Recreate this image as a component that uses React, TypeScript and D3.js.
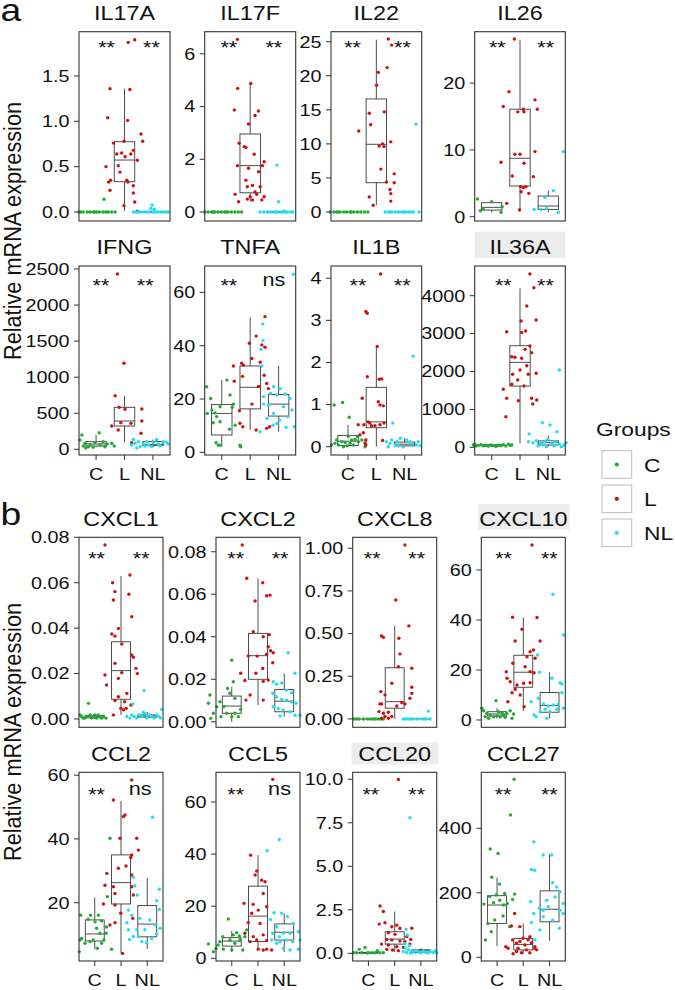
import React from 'react';
import * as d3 from 'd3';

type P = [number, number];

const GROUPS = ['C', 'L', 'NL'];
const COLORS = ['#22AA33', '#CC1111', '#22DDEE'];

// ---------- data: [jitter offset (category units), value] ----------
const IL17A_C: P[] = [[-0.54,0],[-0.45,0],[-0.31,0],[-0.21,0],[-0.1,0],[0.02,0],[0.11,0],[0.25,0],[0.35,0],[0.43,0],[0.55,0],[0.67,0],[-0.6,0],[-0.05,0],[0.28,0.14]];
const IL17A_L: P[] = [[-0.51,1.36],[0.19,1.35],[0.13,1.87],[0.36,1.9],[-0.59,1.04],[0.11,1.01],[0.58,0.86],[0.64,0.78],[-0.39,0.76],[-0.02,0.78],[0.31,0.68],[-0.1,0.65],[-0.27,0.64],[0.02,0.61],[0.45,0.57],[0.22,0.64],[-0.65,0.5],[-0.22,0.51],[-0.16,0.44],[-0.56,0.33],[-0.49,0.35],[-0.51,0.24],[0.08,0.35],[0.12,0.33],[0.31,0.29],[0.31,0.21],[0.36,0.11],[-0.02,0.07],[0.45,0.01]];
const IL17A_NL: P[] = [[-0.69,0],[-0.6,0],[-0.52,0],[-0.43,0],[-0.31,0],[-0.22,0],[-0.12,0],[0.01,0],[0.09,0],[0.18,0],[0.27,0],[0.38,0],[0.47,0],[0.54,0],[-0.03,0.077],[-0.07,0.04],[0.05,0.03]];
const IL17A_BOX = [[0,0,0,0,0],[0.01,0.334,0.573,0.775,1.36],[0,0,0,0.005,0.01]];

const IL17F_C: P[] = [[-0.59,0],[-0.48,0],[-0.36,0],[-0.25,0],[-0.13,0],[-0.02,0],[0.1,0],[0.22,0],[0.34,0],[0.46,0],[0.58,0],[0.7,0],[-0.3,0],[0.15,0]];
const IL17F_L: P[] = [[-0.45,6.55],[-0.44,4.69],[0.02,4.88],[-0.56,3.87],[0.29,3.83],[0.17,3.66],[-0.06,3.34],[-0.39,2.61],[-0.21,2.48],[-0.15,2.45],[0.14,2.19],[-0.45,1.76],[0.49,1.91],[0.43,1.76],[-0.06,1.66],[0.29,1.53],[-0.15,1.21],[0.08,1.01],[-0.1,0.96],[0.35,0.96],[0.17,0.76],[0.23,0.67],[-0.53,0.67],[0,0.58],[-0.1,0.49],[0.08,0.46],[0.41,0.46],[-0.41,0.39],[0.49,0.58]];
const IL17F_NL: P[] = [[-0.65,0],[-0.52,0],[-0.4,0],[-0.28,0],[-0.16,0],[-0.04,0],[0.08,0],[0.2,0],[0.32,0],[0.44,0],[0.5,0],[-0.1,0],[0.25,0],[-0.06,1.78],[0,0.39],[0.2,0.04]];
const IL17F_BOX = [[0,0,0,0,0],[0.39,0.73,1.76,2.96,4.88],[0,0,0,0.02,0.04]];

const IL22_C: P[] = [[-0.63,0],[-0.5,0],[-0.4,0],[-0.28,0],[-0.15,0],[-0.05,0],[0.08,0],[0.2,0],[0.33,0],[0.45,0],[0.58,0],[0.7,0],[-0.35,0],[0.1,0]];
const IL22_L: P[] = [[0.42,25.4],[0.54,24.5],[0.07,20.5],[0.38,21.2],[0.01,18.6],[-0.25,14.5],[0.28,14.7],[-0.2,12.8],[-0.62,11.9],[0.1,9.7],[0.22,10.0],[0.51,10.3],[0.27,9.6],[0.16,6.3],[0.36,4.4],[0.63,5.6],[0.63,4.3],[0.48,3.3],[0.51,2.7],[-0.25,2.2],[0.51,1.6],[-0.11,1.0]];
const IL22_NL: P[] = [[-0.69,0],[-0.58,0],[-0.46,0],[-0.35,0],[-0.22,0],[-0.1,0],[0.03,0],[0.15,0],[0.28,0],[-0.5,0],[-0.05,0],[0.2,0],[0.51,0],[0.4,12.9]];
const IL22_BOX = [[0,0,0,0,0],[1.0,4.3,9.94,16.6,25.3],[0,0,0,0,0]];

const IL26_C: P[] = [[-0.5,2.65],[0,2.25],[-0.3,1.15],[0.37,1.5],[0.33,0.66],[-0.4,0.9]];
const IL26_L: P[] = [[-0.2,26.6],[-0.39,18.7],[-0.59,16.5],[0.12,16.1],[-0.08,15.7],[0.14,15.7],[0.53,17.5],[0.61,16.1],[-0.18,9.35],[0,9.35],[0.53,9.75],[-0.67,8.15],[0.14,8.0],[-0.27,6.1],[0.47,6.0],[0.02,4.5],[0.12,4.35],[0.21,4.5],[0.04,3.75],[0.31,3.5],[-0.47,2.0],[-0.02,1.0]];
const IL26_NL: P[] = [[-0.12,2.9],[0.18,3.9],[-0.5,1.1],[-0.27,1.1],[-0.06,1.25],[0.35,0.66],[0.53,9.75]];
const IL26_BOX = [[0.66,1.0,1.4,2.1,2.4],[1.0,4.6,8.75,16.1,26.5],[0.66,1.1,1.6,3.1,3.9]];

const IFNG_C: P[] = [[-0.5,198],[-0.57,129],[0.11,230],[-0.39,83],[-0.21,60],[-0.04,92],[0.14,60],[0.25,106],[0.39,74],[0.55,83],[-0.27,36],[-0.45,46],[-0.1,28],[0.31,36],[0.64,46],[-0.36,19]];
const IFNG_L: P[] = [[-0.25,2430],[-0.02,1192],[-0.33,743],[-0.19,582],[0.02,555],[0.61,559],[0.61,392],[-0.45,323],[-0.13,369],[-0.22,268],[0.23,360],[0.58,222],[0.25,92]];
const IFNG_NL: P[] = [[-0.69,136],[-0.63,83],[-0.51,106],[-0.34,74],[-0.16,60],[0.01,92],[0.19,74],[0.37,106],[0.49,92],[-0.45,36],[-0.28,46],[-0.04,36],[0.25,46],[-0.75,60],[0.13,136],[0.54,74],[-0.57,19],[-0.22,106]];
const IFNG_BOX = [[25,46,74,105,200],[97,323,392,582,743],[30,51,69,106,136]];

const TNFA_C: P[] = [[-0.53,24.6],[-0.39,20.2],[-0.51,14.6],[-0.35,15.9],[-0.24,14.8],[-0.06,17.1],[0.18,27.1],[0.29,21.5],[0.37,16.9],[0.41,18.1],[-0.06,11.5],[-0.3,11.1],[0.27,8.7],[-0.2,3.6],[-0.12,2.7],[-0.06,2.7],[0.64,2.7],[0.66,2.1],[0.47,10.2],[-0.18,13.4]];
const TNFA_L: P[] = [[0.52,50.9],[0.21,43.6],[-0.03,40.9],[0.41,40.3],[0.52,39.4],[-0.59,32.4],[-0.3,33.4],[-0.24,32.7],[0.06,35.2],[0.35,33.8],[0.49,28.9],[-0.56,26.7],[-0.27,28.5],[0.29,24.7],[0.58,25.8],[0.64,23.9],[0.06,18.1],[-0.38,15.6],[-0.36,10.9],[-0.26,9.6],[0.21,8.4],[0.58,9.0],[0.68,9.6]];
const TNFA_NL: P[] = [[0.52,66.8],[-0.56,48.1],[-0.55,41.9],[-0.62,38.6],[-0.59,32.4],[-0.18,24.6],[0.05,23.9],[-0.53,20.9],[-0.28,22.1],[-0.06,21.5],[0.23,21.9],[0.4,20.2],[-0.53,18.1],[-0.36,17.7],[0.17,17.1],[0.47,15.9],[-0.18,14.6],[-0.41,12.7],[0.03,12.1],[0.32,13.4],[-0.2,10.2],[0.26,9.4],[0.55,9.6],[-0.65,7.7],[-0.06,10.8]];
const TNFA_BOX = [[2.1,6.5,14.6,17.9,27.1],[8.4,16.3,24.4,32.4,50.6],[7.7,13.6,18.1,21.7,32.4]];

const IL1B_C: P[] = [[-0.49,0.99],[-0.19,1.05],[0.04,0.7],[-0.46,0.08],[-0.34,0.04],[-0.22,0.12],[-0.1,0.1],[0.01,0.24],[0.13,0.16],[0.25,0.17],[0.33,0.24],[0.19,0.04],[-0.16,0],[-0.4,0.16],[-0.04,0.02],[0.37,0.12],[-0.58,0.04],[0.49,0.16],[0.6,0],[0.07,0.08]];
const IL1B_L: P[] = [[0.15,4.1],[-0.37,3.21],[-0.32,3.17],[0.03,2.38],[-0.32,1.66],[0.1,1.6],[0.19,1.61],[-0.5,1.15],[0.07,1.07],[0.13,0.99],[0.25,0.97],[-0.64,0.52],[-0.44,0.52],[-0.23,0.56],[-0.17,0.5],[-0.05,0.5],[0.13,0.52],[0.27,0.56],[-0.29,0.59],[-0.46,0.33],[-0.58,0.28],[-0.37,0.16],[0.22,0.15],[-0.37,0.04],[-0.4,0.09]];
const IL1B_NL: P[] = [[0.3,2.15],[-0.42,0.56],[-0.64,0.12],[-0.46,0.16],[-0.28,0.12],[-0.16,0.2],[0.07,0.16],[0.25,0.08],[0.42,0.04],[-0.58,0],[-0.05,0],[-0.34,0.04],[0.19,0.12],[0.48,0.12],[-0.22,0.02],[0.54,0.02],[-0.52,0.08]];
const IL1B_BOX = [[0,0.03,0.13,0.27,0.52],[0,0.45,0.59,1.41,2.38],[0,0.02,0.06,0.11,0.2]];

const IL36A_C: P[] = [[-0.65,62],[-0.55,35],[-0.47,50],[-0.38,70],[-0.29,40],[-0.2,55],[-0.12,30],[-0.05,62],[0.06,45],[0.15,20],[0.23,58],[0.32,40],[0.41,70],[0.5,35],[0.59,85],[0.66,50],[0.71,60],[-0.6,80]];
const IL36A_L: P[] = [[0.35,4573],[0.49,4211],[0.24,3728],[0.57,3359],[0.04,3332],[-0.47,3051],[0.06,3030],[0.2,3070],[0.35,2673],[0.41,2497],[0.18,2585],[-0.29,2391],[-0.18,2375],[0.06,2348],[0,2040],[0.24,2150],[-0.26,1926],[0.29,1926],[0.57,1953],[-0.08,1776],[-0.29,1662],[0.14,1617],[-0.59,1530],[-0.47,1293],[0.41,1293],[0.59,1250],[-0.06,1230],[0.45,1143],[-0.5,808]];
const IL36A_NL: P[] = [[-0.68,351],[-0.21,649],[0.06,588],[0.3,412],[0.39,2040],[-0.7,148],[-0.54,122],[-0.42,174],[-0.27,105],[-0.13,148],[-0.02,210],[0.1,105],[0.24,148],[0.39,88],[0.55,62],[0.63,122],[-0.36,35],[-0.06,17],[0.2,35],[0.46,17],[-0.19,62]];
const IL36A_BOX = [[17,35,50,65,100],[105,1617,2242,2680,4196],[20,60,122,170,300]];

const CXCL1_C: P[] = [[-0.56,0.0018],[-0.5,0.0011],[-0.44,0.0004],[-0.33,0.0011],[-0.24,0.0069],[-0.18,0.0018],[-0.12,0.0004],[-0.05,0.0011],[0.07,0.0004],[0.13,0.0018],[0.2,0.0011],[0.26,0.0004],[0.33,0.0011],[0.43,0.0004],[-0.38,0.0004],[0,0.0018]];
const CXCL1_L: P[] = [[-0.61,0.0766],[0.34,0.0634],[-0.32,0.06],[-0.23,0.0561],[-0.29,0.0524],[0.41,0.045],[0.3,0.0549],[-0.1,0.0399],[-0.35,0.0374],[-0.23,0.0365],[0.03,0.033],[0.41,0.0282],[0.47,0.0272],[0.57,0.0223],[-0.61,0.0194],[-0.23,0.0245],[0.03,0.0204],[0.62,0.02],[-0.55,0.015],[-0.1,0.0179],[0.22,0.0113],[-0.1,0.0098],[-0.23,0.0081],[0.14,0.0076],[0.38,0.0062],[-0.01,0.0047],[0.1,0.004],[0.2,0.0047],[-0.29,0.0018]];
const CXCL1_NL: P[] = [[-0.12,0.0125],[-0.55,0.0066],[-0.78,0.0011],[-0.66,0.0004],[-0.59,0.0018],[-0.5,0.0011],[-0.4,0.0004],[-0.3,0.0018],[-0.21,0.0011],[-0.1,0.0025],[-0.02,0.0004],[0.08,0.0018],[0.17,0.0011],[0.27,0.0004],[0.36,0.0018],[0.45,0.0011],[0.55,0.0042],[0.5,0.0004],[-0.15,0.003],[0,0.0015]];
const CXCL1_BOX = [[0,0.0005,0.001,0.0015,0.002],[0.0018,0.0087,0.0213,0.034,0.063],[0,0.0008,0.0013,0.0018,0.003]];

const CXCL2_C: P[] = [[-0.83,0.0126],[-0.89,0.0087],[-0.7,0.004],[-0.8,0.0016],[-0.45,0.0094],[-0.3,0.0071],[-0.07,0.0134],[-0.16,0.0157],[0,0.029],[0.06,0.0188],[0.12,0.011],[0.25,0.0024],[0,0.0024],[-0.19,0.004],[0.34,0.0058],[-0.41,0.0024],[0.12,0.004],[-0.57,0.0071]];
const CXCL2_L: P[] = [[-0.6,0.0832],[-0.43,0.0675],[0.18,0.0654],[-0.11,0.0568],[0.33,0.0593],[0.46,0.0596],[-0.18,0.0424],[0.2,0.04],[0.43,0.041],[0.39,0.0353],[0.48,0.0334],[-0.03,0.0309],[0.33,0.0318],[0.58,0.0325],[0.56,0.0278],[-0.37,0.031],[0.18,0.0251],[-0.08,0.0228],[0.2,0.0191],[0.39,0.0196],[-0.5,0.0194],[-0.3,0.0126],[-0.46,0.0102],[0.2,0.0102],[-0.66,0.0228]];
const CXCL2_NL: P[] = [[0.15,0.0325],[0.41,0.0228],[-0.42,0.0188],[-0.29,0.0177],[-0.1,0.0183],[0.09,0.0149],[0.28,0.0137],[-0.44,0.0134],[-0.29,0.0118],[-0.1,0.0105],[0.09,0.0102],[0.28,0.0094],[0.45,0.0087],[-0.42,0.0071],[-0.23,0.0063],[-0.04,0.0055],[0.22,0.0047],[0.41,0.0031],[0.6,0.0031],[-0.16,0.0027]];
const CXCL2_BOX = [[0,0.004,0.0074,0.0121,0.0165],[0.0079,0.02,0.0311,0.0416,0.0675],[0.0024,0.0047,0.0097,0.0152,0.0228]];

const CXCL8_C: P[] = [[-0.55,0],[-0.45,0],[-0.36,0],[-0.19,0],[-0.03,0],[0.08,0],[0.19,0],[0.27,0],[0.38,0],[0.47,0],[0.57,0]];
const CXCL8_L: P[] = [[0.39,1.019],[0.04,0.697],[0.54,0.545],[-0.5,0.486],[-0.43,0.478],[0.16,0.473],[0.2,0.381],[0.14,0.306],[0.65,0.297],[-0.11,0.209],[0.65,0.186],[-0.53,0.16],[-0.37,0.141],[0.65,0.15],[0.58,0.121],[-0.56,0.088],[-0.5,0.088],[0.27,0.096],[0.39,0.088],[0.08,0.076],[-0.6,0.043],[-0.43,0.033],[-0.24,0.039],[-0.37,0.014],[-0.5,0.004],[-0.11,0.014],[-0.24,0.004]];
const CXCL8_NL: P[] = [[-0.67,0],[-0.58,0],[-0.48,0],[-0.38,0],[-0.29,0],[-0.14,0],[0.03,0],[0.12,0],[0.2,0],[0.35,0],[0.28,0.046]];
const CXCL8_BOX = [[0,0,0,0,0],[0,0.063,0.101,0.3,0.545],[0,0,0,0,0]];

const CXCL10_C: P[] = [[-0.58,4.7],[-0.04,7.7],[-0.39,2.7],[-0.26,2.0],[-0.13,1.3],[0,1.6],[0.12,1.3],[0.25,2.0],[0.37,2.7],[0.5,3.7],[0.57,0.7],[-0.32,0.7],[-0.45,1.3],[0.06,3.3],[0.19,2.9],[0.31,1.1],[0.63,2.4],[-0.51,3.7]];
const CXCL10_L: P[] = [[0.33,70],[-0.41,41.1],[0.52,41],[-0.05,36.3],[-0.31,31.6],[0.64,31.6],[0.39,28],[0.26,27.3],[-0.65,19.3],[-0.4,22.7],[0.14,25.3],[0.45,24.7],[0.07,21.3],[0.26,19.3],[0.41,18.9],[-0.62,16.7],[-0.5,15.3],[-0.24,14],[0.01,14.7],[0.26,14.9],[-0.31,12.3],[-0.43,10.9],[-0.12,10],[0.03,5.3],[-0.59,7.3]];
const CXCL10_NL: P[] = [[0.13,50.3],[0.53,34],[-0.46,26],[-0.38,19.1],[0.4,14.9],[0.47,14.4],[0.47,10.9],[0.09,16.7],[-0.7,7.3],[-0.42,8.7],[-0.23,6.4],[-0.04,5.6],[0.15,6.0],[0.34,6.4],[-0.36,3.3],[-0.51,1.3],[-0.17,4.3],[0.02,3.3],[0.28,4.3],[0.53,4.7],[-0.59,2.0],[-0.1,0.7]];
const CXCL10_BOX = [[0.7,1.6,2.4,3.3,4.7],[3.6,13.1,19.1,25.9,41],[0.7,3.1,5.8,11,19.1]];

const CCL2_C: P[] = [[-0.59,4.6],[-0.56,8.3],[-0.5,8.8],[-0.54,16.1],[-0.25,14.8],[-0.16,16.1],[0.01,14.0],[0.14,16.1],[0.26,14.3],[0.07,12.0],[0.2,10.4],[-0.06,8.3],[-0.18,7.8],[-0.37,7.3],[0.26,7.3],[0.1,5.7],[0.35,8.3],[0.43,10.4],[0.48,21.9],[0.58,40.2],[0.64,5.4],[0.45,12.4]];
const CCL2_L: P[] = [[0.41,58.5],[-0.29,52.2],[0.09,47.0],[0.15,47.5],[-0.04,40.2],[0.6,40.2],[0.66,36.5],[0.41,35.0],[0.37,34.2],[-0.54,29.2],[-0.1,30.8],[0.19,31.5],[0.41,28.7],[-0.61,25.5],[-0.29,25.0],[-0.23,22.9],[0.41,25.0],[0.47,22.4],[-0.67,19.6],[-0.23,19.3],[-0.01,16.7],[-0.42,13.0],[-0.23,13.7],[0.45,15.1],[0.06,4.1]];
const CCL2_NL: P[] = [[0.2,46.8],[-0.53,28.0],[-0.47,25.3],[-0.38,22.4],[0.46,24.2],[0.36,20.6],[-0.72,17.7],[-0.59,16.1],[-0.78,13.7],[-0.28,15.1],[0.1,14.6],[0.46,17.9],[-0.68,8.5],[-0.53,9.4],[-0.34,9.4],[-0.21,7.8],[-0.02,7.5],[0.17,8.8],[0.36,10.2],[0.49,12.0],[-0.4,11.5],[-0.72,11.5],[-0.09,11.5],[0.3,13.0]];
const CCL2_BOX = [[5.4,8.0,10.2,14.6,21.6],[4.1,19.6,26.3,35,51.9],[5.5,9.3,13.3,19.1,27.8]];

const CCL5_C: P[] = [[-0.89,5.5],[-0.7,2.5],[-0.6,3.8],[-0.45,6.4],[-0.34,8.3],[-0.13,15.1],[0.06,9.0],[-0.07,7.0],[0.12,5.8],[0.31,7.0],[0.29,8.6],[0.19,9.8],[0.5,8.3],[0.57,10.9],[-0.32,3.5],[0,3.2],[0.42,3.2],[-0.52,5.1]];
const CCL5_L: P[] = [[0.56,68.7],[-0.28,39.6],[-0.05,33.5],[-0.11,32.0],[0.14,30.0],[0.27,29.4],[-0.53,21.1],[-0.18,20.7],[0.2,24.9],[-0.24,17.3],[0.01,18.5],[0.33,19.8],[-0.37,13.7],[0.08,13.4],[-0.5,9.6],[-0.18,8.3],[0.2,9.0],[-0.3,6.4],[-0.05,7.0],[0.33,6.8],[0.2,3.2],[0.33,3.5],[0.52,3.2],[0.01,3.5]];
const CCL5_NL: P[] = [[-0.19,45.6],[-0.65,41.3],[-0.39,17.5],[-0.1,17.3],[0.12,16.0],[0.35,13.4],[-0.52,14.9],[-0.29,12.1],[-0.04,9.6],[0.22,9.6],[-0.44,9.6],[-0.19,8.3],[0.07,7.0],[0.32,6.4],[0.54,10.2],[-0.29,5.8],[-0.04,3.8],[0.22,3.2],[0.54,3.5],[0.6,7.0],[-0.48,7.0],[-0.16,6.4]];
const CCL5_BOX = [[2.4,4.7,6.6,7.9,10.6],[3.2,6.4,16.2,27.7,39.6],[2.4,7.0,10,13.2,17.2]];

const CCL20_C: P[] = [[-0.35,0.23],[-0.13,0.34],[0.34,0.15],[-0.57,0.03],[-0.45,0.03],[-0.26,0.03],[0,0.03],[0.12,0.03],[0.25,0.03],[0.44,0.03],[0.57,0.03],[-0.05,0.02]];
const CCL20_L: P[] = [[0.14,9.99],[-0.56,2.72],[-0.43,2.4],[-0.37,1.76],[-0.59,1.68],[-0.11,1.53],[0.08,1.62],[0.2,1.44],[0.65,1.44],[-0.24,1.19],[0.01,1.09],[0.46,0.96],[0.61,0.8],[-0.3,0.8],[-0.11,0.76],[0.2,0.71],[0.39,0.67],[-0.5,0.53],[-0.24,0.48],[0.08,0.38],[0.33,0.34],[0.58,0.53],[-0.3,0.23],[-0.08,0.19],[0.14,0.15]];
const CCL20_NL: P[] = [[-0.42,7.79],[-0.57,1.38],[-0.52,1.05],[-0.67,0.1],[-0.6,0.3],[-0.55,0.05],[-0.48,0.2],[-0.4,0.02],[-0.35,0.12],[-0.29,0.05],[-0.2,0.18],[-0.1,0.08],[0,0.02],[0.09,0.12],[0.18,0.05],[0.28,0.02],[0.35,0.1],[0.47,0.05],[0.55,0.15],[0.6,0.03],[-0.62,0.55],[-0.45,0.45]];
const CCL20_BOX = [[0,0.01,0.03,0.05,0.08],[0.08,0.53,0.82,1.24,2.4],[0,0.05,0.15,0.2,0.3]];

const CCL27_C: P[] = [[0.65,552],[0.51,441],[0.04,322],[-0.26,336],[-0.2,248],[0.1,227],[-0.5,165],[-0.28,188],[-0.13,169],[-0.03,193],[0.1,177],[0.25,162],[0.39,167],[0.59,179],[0.67,196],[0.29,198],[-0.35,105],[-0.09,116],[0.48,95],[-0.22,79],[-0.44,54],[0.23,128]];
const CCL27_L: P[] = [[-0.33,136],[-0.45,97],[-0.13,95],[-0.67,33],[-0.58,28],[-0.41,54],[-0.26,44],[-0.13,49],[0.06,38],[0.18,54],[0.31,45],[0.44,33],[0.51,23],[0.12,23],[-0.07,14],[-0.26,18],[-0.01,59],[0.25,64],[0.44,28],[-0.2,28],[-0.39,11],[0.25,14]];
const CCL27_NL: P[] = [[-0.6,358],[-0.24,317],[0.08,317],[-0.69,272],[-0.56,270],[-0.72,172],[-0.39,152],[-0.6,136],[-0.24,146],[-0.05,157],[0.12,231],[0.27,218],[0.4,203],[0.21,187],[0.52,167],[0.4,146],[0.12,115],[0.37,90],[-0.37,85],[-0.69,108],[-0.11,177],[-0.56,54],[0.52,136],[-0.24,126]];
const CCL27_BOX = [[35,105,162,191,247],[11,23,40,58,105],[51,110,149,206,319]];

// tick values
const IL17A_TICKS = [0, 0.5, 1, 1.5];
const IL17F_TICKS = [0, 2, 4, 6];
const IL22_TICKS = [0, 5, 10, 15, 20, 25];
const IL26_TICKS = [0, 10, 20];
const IFNG_TICKS = [0, 500, 1000, 1500, 2000, 2500];
const TNFA_TICKS = [0, 20, 40, 60];
const IL1B_TICKS = [0, 1, 2, 3, 4];
const IL36A_TICKS = [0, 1000, 2000, 3000, 4000];
const CXCL1_TICKS = [0, 0.02, 0.04, 0.06, 0.08];
const CXCL2_TICKS = [0, 0.02, 0.04, 0.06, 0.08];
const CXCL8_TICKS = [0, 0.25, 0.5, 0.75, 1];
const CXCL10_TICKS = [0, 20, 40, 60];
const CCL2_TICKS = [20, 40, 60];
const CCL5_TICKS = [0, 20, 40, 60];
const CCL20_TICKS = [0, 2.5, 5, 7.5, 10];
const CCL27_TICKS = [0, 200, 400];

// ---------- layout ----------
const SX = 1.2;
const FONT = "'Liberation Sans', Arial, Helvetica, sans-serif";
const ROWS = [
  { top: 31.7, bottom: 221, sig: 12.3 },
  { top: 266, bottom: 455, sig: 15.7 },
  { top: 537.3, bottom: 727.3, sig: 17.7 },
  { top: 772.3, bottom: 961, sig: 18 },
];
const COLS_A: [number, number][] = [[79, 170], [204.7, 295.7], [331, 421.7], [474.7, 565.3]];
const COLS_B: [number, number][] = [[79, 163], [216, 300], [352.7, 436.7], [481.3, 565.3]];

interface Panel {
  gene: string; row: number; col: number; domain: [number, number]; ticks: number[]; fmt: string;
  pts: P[][]; box: number[][]; sig: string[]; sigX: number[]; hl?: [number, number, number, number];
}

const PANELS: Panel[] = [
  { gene: 'IL17A', row: 0, col: 0, domain: [-0.099, 1.988], ticks: IL17A_TICKS, fmt: '.1f', pts: [IL17A_C, IL17A_L, IL17A_NL], box: IL17A_BOX, sig: ['**', '**'], sigX: [1.37, 2.95] },
  { gene: 'IL17F', row: 0, col: 1, domain: [-0.34, 6.84], ticks: IL17F_TICKS, fmt: 'd', pts: [IL17F_C, IL17F_L, IL17F_NL], box: IL17F_BOX, sig: ['**', '**'], sigX: [1.25, 2.83] },
  { gene: 'IL22', row: 0, col: 2, domain: [-1.32, 26.47], ticks: IL22_TICKS, fmt: 'd', pts: [IL22_C, IL22_L, IL22_NL], box: IL22_BOX, sig: ['**', '**'], sigX: [1.16, 2.92] },
  { gene: 'IL26', row: 0, col: 3, domain: [-0.64, 27.7], ticks: IL26_TICKS, fmt: 'd', pts: [IL26_C, IL26_L, IL26_NL], box: IL26_BOX, sig: ['**', '**'], sigX: [1.2, 2.91] },
  { gene: 'IFNG', row: 1, col: 0, domain: [-79, 2541], ticks: IFNG_TICKS, fmt: 'd', pts: [IFNG_C, IFNG_L, IFNG_NL], box: IFNG_BOX, sig: ['**', '**'], sigX: [1.17, 2.73] },
  { gene: 'TNFA', row: 1, col: 1, domain: [-1.0, 69.9], ticks: TNFA_TICKS, fmt: 'd', pts: [TNFA_C, TNFA_L, TNFA_NL], box: TNFA_BOX, sig: ['**', 'ns'], sigX: [1.25, 2.83] },
  { gene: 'IL1B', row: 1, col: 2, domain: [-0.197, 4.29], ticks: IL1B_TICKS, fmt: 'd', pts: [IL1B_C, IL1B_L, IL1B_NL], box: IL1B_BOX, sig: ['**', '**'], sigX: [1.35, 2.91] },
  { gene: 'IL36A', row: 1, col: 3, domain: [-203, 4784], ticks: IL36A_TICKS, fmt: 'd', pts: [IL36A_C, IL36A_L, IL36A_NL], box: IL36A_BOX, sig: ['**', '**'], sigX: [1.41, 2.9], hl: [474.7, 565.3, 22.6, 4] },
  { gene: 'CXCL1', row: 2, col: 0, domain: [-0.00365, 0.08], ticks: CXCL1_TICKS, fmt: '.2f', pts: [CXCL1_C, CXCL1_L, CXCL1_NL], box: CXCL1_BOX, sig: ['**', '**'], sigX: [1.07, 2.77] },
  { gene: 'CXCL2', row: 2, col: 1, domain: [-0.0026, 0.0868], ticks: CXCL2_TICKS, fmt: '.2f', pts: [CXCL2_C, CXCL2_L, CXCL2_NL], box: CXCL2_BOX, sig: ['**', '**'], sigX: [1.15, 2.84] },
  { gene: 'CXCL8', row: 2, col: 2, domain: [-0.049, 1.064], ticks: CXCL8_TICKS, fmt: '.2f', pts: [CXCL8_C, CXCL8_L, CXCL8_NL], box: CXCL8_BOX, sig: ['**', '**'], sigX: [1.14, 2.84] },
  { gene: 'CXCL10', row: 2, col: 3, domain: [-2.93, 73.1], ticks: CXCL10_TICKS, fmt: 'd', pts: [CXCL10_C, CXCL10_L, CXCL10_NL], box: CXCL10_BOX, sig: ['**', '**'], sigX: [1.25, 2.99], hl: [478.3, 569.3, 21.6, 3.7] },
  { gene: 'CCL2', row: 3, col: 0, domain: [1.72, 60.9], ticks: CCL2_TICKS, fmt: 'd', pts: [CCL2_C, CCL2_L, CCL2_NL], box: CCL2_BOX, sig: ['**', 'ns'], sigX: [1.07, 2.73] },
  { gene: 'CCL5', row: 3, col: 1, domain: [-1.04, 71.4], ticks: CCL5_TICKS, fmt: 'd', pts: [CCL5_C, CCL5_L, CCL5_NL], box: CCL5_BOX, sig: ['**', 'ns'], sigX: [1.15, 2.82] },
  { gene: 'CCL20', row: 3, col: 2, domain: [-0.44, 10.4], ticks: CCL20_TICKS, fmt: '.1f', pts: [CCL20_C, CCL20_L, CCL20_NL], box: CCL20_BOX, sig: ['**', '**'], sigX: [1.09, 2.84], hl: [351.7, 438.3, 17.9, 3.7] },
  { gene: 'CCL27', row: 3, col: 3, domain: [-11.5, 573.6], ticks: CCL27_TICKS, fmt: 'd', pts: [CCL27_C, CCL27_L, CCL27_NL], box: CCL27_BOX, sig: ['**', '**'], sigX: [1.23, 2.99] },
];

function ST(props: { x: number; y: number; size: number; anchor?: string; rot?: number; sx?: number; fill?: string; children: React.ReactNode }) {
  const { x, y, size, anchor = 'start', rot, sx = SX, fill = '#111', children } = props;
  return (
    <g transform={`translate(${x},${y}) scale(${sx},1)${rot ? ` rotate(${rot})` : ''}`}>
      <text x={0} y={0} fontSize={size} textAnchor={anchor as any} fill={fill} fontFamily={FONT}>{children}</text>
    </g>
  );
}

function PanelView({ p }: { p: Panel }) {
  const row = ROWS[p.row];
  const [x0, x1] = (p.row < 2 ? COLS_A : COLS_B)[p.col];
  const x = d3.scaleLinear().domain([0.4, 3.6]).range([x0, x1]);
  const y = d3.scaleLinear().domain(p.domain).range([row.bottom, row.top]);
  const fmt = d3.format(p.fmt);
  const unit = x(2) - x(1);
  const bw = 0.72 * unit;
  const titleBase = row.top - 11.7;
  const showX = p.row === 1 || p.row === 3;
  const sigC = row.top + row.sig;
  const boxStroke = '#3a3a3a';
  return (
    <g>
      {p.hl && <rect x={p.hl[0]} y={titleBase - p.hl[2]} width={p.hl[1] - p.hl[0]} height={p.hl[2] + p.hl[3]} fill="#ececec" />}
      <ST x={(x0 + x1) / 2} y={titleBase} size={19.5} anchor="middle">{p.gene}</ST>
      {p.box.map((b, i) => {
        const cx = x(i + 1);
        const [lo, q1, med, q3, hi] = b;
        return (
          <g key={'b' + i} stroke={boxStroke} strokeWidth={0.9} fill="none">
            <line x1={cx} x2={cx} y1={y(hi)} y2={y(q3)} />
            <line x1={cx} x2={cx} y1={y(q1)} y2={y(lo)} />
            <rect x={cx - bw / 2} y={y(q3)} width={bw} height={Math.max(0, y(q1) - y(q3))} fill="none" />
            <line x1={cx - bw / 2} x2={cx + bw / 2} y1={y(med)} y2={y(med)} />
          </g>
        );
      })}
      {p.pts.map((arr, gi) =>
        arr.map((d, k) => (
          <circle key={gi + '-' + k} cx={x(gi + 1 + d[0])} cy={y(d[1])} r={1.7} fill={COLORS[gi]} />
        ))
      )}
      <rect x={x0} y={row.top} width={x1 - x0} height={row.bottom - row.top} fill="none" stroke="#333" strokeWidth={1.1} />
      {p.ticks.map((t) => (
        <g key={'t' + t}>
          <line x1={x0 - 5} x2={x0} y1={y(t)} y2={y(t)} stroke="#333" strokeWidth={1} />
          <ST x={x0 - 9.5} y={y(t) + 5.8} size={16.5} anchor="end">{fmt(t)}</ST>
        </g>
      ))}
      {showX && GROUPS.map((g, i) => (
        <g key={'x' + g}>
          <line x1={x(i + 1)} x2={x(i + 1)} y1={row.bottom} y2={row.bottom + 5} stroke="#333" strokeWidth={1} />
          <ST x={x(i + 1)} y={row.bottom + 25} size={16.5} anchor="middle">{g}</ST>
        </g>
      ))}
      {p.sig.map((s, i) => (
        <ST key={'s' + i} x={x(p.sigX[i])} y={s === 'ns' ? sigC + 4.7 : sigC + 10.4} size={18} anchor="middle">{s}</ST>
      ))}
    </g>
  );
}

export default function App() {
  const legendY = [450.7, 485, 519];
  return (
    <svg width={675} height={990} style={{ position: 'absolute', left: 0, top: 0, background: '#fff' }} fontFamily={FONT}>
      <rect x={0} y={0} width={675} height={990} fill="#fff" />
      <ST x={0.5} y={21} size={31}>a</ST>
      <ST x={0.5} y={525} size={31}>b</ST>
      <ST x={20.7} y={231} size={21.7} sx={1.07} anchor="middle" rot={-90}>Relative mRNA expression</ST>
      <ST x={20.7} y={732} size={21.7} sx={1.07} anchor="middle" rot={-90}>Relative mRNA expression</ST>
      {PANELS.map((p) => <PanelView key={p.gene} p={p} />)}
      <ST x={596} y={435.7} size={19}>Groups</ST>
      {GROUPS.map((g, i) => (
        <g key={'lg' + g}>
          <rect x={602} y={legendY[i]} width={29.7} height={27.6} fill="#fff" stroke="#c4c4c4" strokeWidth={1.1} />
          <circle cx={616.8} cy={legendY[i] + 13.8} r={2.1} fill={COLORS[i]} />
          <ST x={644} y={legendY[i] + 13.8 + 7.5} size={19}>{g}</ST>
        </g>
      ))}
    </svg>
  );
}
